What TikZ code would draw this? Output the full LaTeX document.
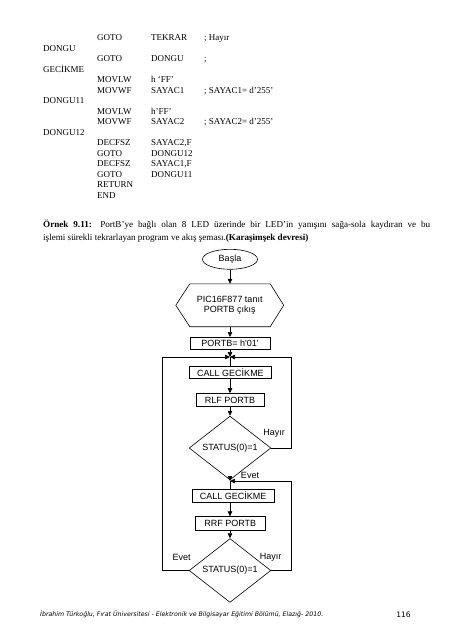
\documentclass[tikz,border=0pt]{standalone}
\usepackage{fontspec}
\usepackage{graphicx}
\setmainfont{Liberation Serif}
\newfontfamily\arialf{Liberation Sans}
\newfontfamily\verdf{DejaVu Sans}
\usetikzlibrary{shapes.geometric,arrows.meta}
\tikzset{
  code/.style={anchor=base west, inner sep=0pt, font=\fontsize{9}{10}\selectfont},
  para/.style={anchor=base west, inner sep=0pt, font=\fontsize{9.1}{11}\selectfont},
  box/.style={draw, line width=0.6pt, inner sep=0pt, font=\arialf\fontsize{9}{10}\selectfont},
  dia/.style={draw, diamond, line width=0.6pt, inner sep=0pt, minimum width=81.7pt, minimum height=54.3pt, font=\arialf\fontsize{9}{10}\selectfont},
  lbl/.style={inner sep=0pt, font=\arialf\fontsize{9}{10}\selectfont},
  conn/.style={line width=0.6pt},
  arr/.style={line width=0.6pt, -{Triangle[length=5pt,width=4.5pt]}},
}
\begin{document}
\begin{tikzpicture}[x=1pt,y=-1pt]
\useasboundingbox (0,0) rectangle (453,640);
\fill[white] (0,0) rectangle (453,640);
% ---- code listing ----
\node[code] (a0) at (97,40.6) {GOTO};
\node[code] (b0) at (151,40.6) {TEKRAR};
\node[code] (c0) at (204,40.6) {; Hayır};
\node[code] (l1) at (43,51.1) {DONGU};
\node[code] (a2) at (97,61.6) {GOTO};
\node[code] (b2) at (151,61.6) {DONGU};
\node[code] (c2) at (204,61.6) {;};
\node[code] (l3) at (43,72.1) {GECİKME};
\node[code] (a4) at (97,82.6) {MOVLW};
\node[code] (b4) at (151,82.6) {h ‘FF’};
\node[code] (a5) at (97,93.1) {MOVWF};
\node[code] (b5) at (151,93.1) {SAYAC1};
\node[code] (c5) at (204,93.1) {; SAYAC1= d’255’};
\node[code] (l6) at (43,103.6) {DONGU11};
\node[code] (a7) at (97,114.1) {MOVLW};
\node[code] (b7) at (151,114.1) {h’FF’};
\node[code] (a8) at (97,124.6) {MOVWF};
\node[code] (b8) at (151,124.6) {SAYAC2};
\node[code] (c8) at (204,124.6) {; SAYAC2= d’255’};
\node[code] (l9) at (43,135.1) {DONGU12};
\node[code] (a10) at (97,145.6) {DECFSZ};
\node[code] (b10) at (151,145.6) {SAYAC2,F};
\node[code] (a11) at (97,156.1) {GOTO};
\node[code] (b11) at (151,156.1) {DONGU12};
\node[code] (a12) at (97,166.6) {DECFSZ};
\node[code] (b12) at (151,166.6) {SAYAC1,F};
\node[code] (a13) at (97,177.1) {GOTO};
\node[code] (b13) at (151,177.1) {DONGU11};
\node[code] (a14) at (97,187.6) {RETURN};
\node[code] (a15) at (97,198.1) {END};
% ---- paragraph ----
\node[para] (p1) at (43,227.3) {\makebox[387pt][s]{\textbf{Örnek 9.11:} PortB’ye bağlı olan 8 LED üzerinde bir LED’in yanışını sağa-sola kaydıran ve bu}};
\node[para] (p2) at (43,240) {işlemi sürekli tekrarlayan program ve akış şeması.\textbf{(Karaşimşek devresi)}};
% ---- flowchart ----
\node[draw, ellipse, line width=0.6pt, inner sep=0pt, minimum width=55pt, minimum height=20pt, font=\arialf\fontsize{9}{10}\selectfont] (basla) at (230,259.3) {Başla};
\node[inner sep=0pt, minimum width=107.5pt, minimum height=42.5pt, align=center, font=\arialf\fontsize{9}{10.5}\selectfont] (hex) at (229.75,305.25) {PIC16F877 tanıt\\PORTB çıkış};
\draw[conn] (hex.west) -- ([xshift=14pt]hex.north west) -- ([xshift=-13.5pt]hex.north east) -- (hex.east) -- ([xshift=-13.5pt]hex.south east) -- ([xshift=14pt]hex.south west) -- cycle;
\node[box, minimum width=80pt, minimum height=12pt] (portb) at (230,343.3) {PORTB= h'01'};
\coordinate (j1) at (230,357);
\node[box, minimum width=82pt, minimum height=12.5pt] (call1) at (230.5,372.3) {CALL GECİKME};
\node[box, minimum width=68pt, minimum height=13pt] (rlf) at (230,400) {RLF PORTB};
\node[dia] (d1) at (230,448) {STATUS(0)=1};
\coordinate (j2) at (230,481);
\node[box, minimum width=81.5pt, minimum height=12.7pt] (call2) at (233.2,496) {CALL GECİKME};
\node[box, minimum width=70.7pt, minimum height=13.3pt] (rrf) at (230.3,523.3) {RRF PORTB};
\node[dia] (d2) at (230,570.5) {STATUS(0)=1};
\coordinate (rx1) at (291.7,448);
\coordinate (rx2) at (291.7,570.5);
\coordinate (lx) at (162.5,570.5);
% connectors
\draw[arr] (basla.south) -- (basla.south |- hex.north);
\draw[arr] (basla.south |- hex.south) -- (portb.north -| basla.south);
\draw[arr] (portb.south -| j1) -- (j1);
\draw[conn] (j1) -- (j1 |- call1.north);
\draw[arr] (call1.south -| j1) -- (rlf.north -| j1);
\draw[arr] (rlf.south -| j1) -- (d1.north);
\draw[arr] (d1.east) -- (rx1) -- (rx1 |- j1) -- (j1);
\draw[arr] (d1.south) -- (j2);
\draw[conn] (j2) -- (j2 |- call2.north);
\draw[arr] (call2.south -| j2) -- (rrf.north -| j2);
\draw[arr] (rrf.south -| j2) -- (d2.north);
\draw[arr] (d2.east) -- (rx2) -- (rx2 |- j2) -- (j2);
\draw[arr] (d2.west) -- (lx) -- (lx |- j1) -- (j1);
% labels
\node[lbl] (h1) at (274,433) {Hayır};
\node[lbl] (e1) at (250,475) {Evet};
\node[lbl] (e2) at (181.7,557.3) {Evet};
\node[lbl] (h2) at (270.5,557.3) {Hayır};
% ---- footer ----
\node[anchor=west, inner sep=0pt] (foot) at (40,614.5) {\resizebox{283pt}{!}{\verdf\itshape\fontsize{6}{7}\selectfont İbrahim Türkoğlu, Fırat Üniversitesi - Elektronik ve Bilgisayar Eğitimi Bölümü, Elazığ- 2010.}};
\node[inner sep=0pt, font=\verdf\fontsize{7.5}{8}\selectfont] (pg) at (403.5,614.5) {116};
\end{tikzpicture}
\end{document}
